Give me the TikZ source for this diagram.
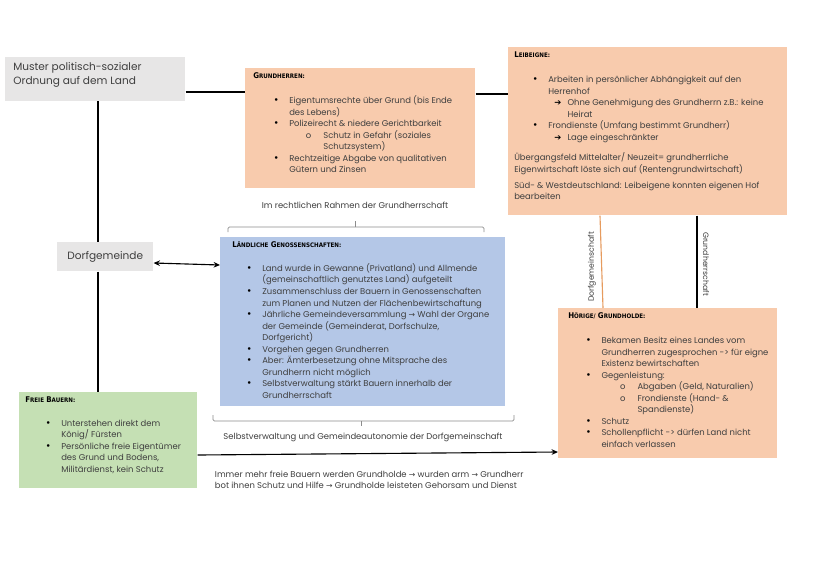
\documentclass[tikz,border=0pt]{standalone}
\usepackage{fontspec}
\setmainfont{Poppins}
\newfontfamily\titlefont{DejaVu Sans Condensed Bold}
\newfontfamily\symfont{DejaVu Sans}
\usepackage{enumitem}
\usepackage{tikz}
\usetikzlibrary{positioning,arrows.meta,calc}

\definecolor{hellorange}{HTML}{F8CBAD}
\definecolor{hellblau}{HTML}{B4C7E7}
\definecolor{hellgruen}{HTML}{C5E0B4}
\definecolor{hellgrau}{HTML}{E7E6E6}
\definecolor{linieorange}{HTML}{E69B5E}
\definecolor{klammergrau}{HTML}{8C8C8C}
\definecolor{schrift}{HTML}{3F3F3F}

\newcommand{\bodyfont}{\fontsize{6}{8.2}\selectfont}
\newcommand{\kopf}[2]{{\titlefont\color{black}\fontsize{5.6}{7}\selectfont #1\fontsize{4.4}{7}\selectfont #2}}
\newcommand{\pfeil}{{\symfont\fontsize{5.5}{7}\selectfont →}}
\newcommand{\dickpfeil}{{\symfont\color{black}\fontsize{6}{7}\selectfont ➔}}
\newcommand{\punkt}{{\color{black}\fontsize{7.5}{7}\selectfont\textbullet}}
\newcommand{\inhalt}[3]{\begin{minipage}[t][#2][t]{#1}\raggedright #3\end{minipage}}
\setlist[itemize]{nosep, label=\punkt, leftmargin=0.9cm, labelsep=0.27cm}
\setlist[itemize,2]{label=o, leftmargin=0.85cm, labelsep=0.3cm}

\begin{document}
\begin{tikzpicture}[
    x=0.025cm, y=-0.025cm,
    kasten/.style={anchor=north west, inner xsep=0.2cm, inner ysep=0.12cm, text=schrift, font=\bodyfont},
    grau/.style={kasten, fill=hellgrau, font=\fontsize{7.5}{10.5}\selectfont},
    orange/.style={kasten, fill=hellorange},
    blau/.style={kasten, fill=hellblau},
    gruen/.style={kasten, fill=hellgruen},
    linie/.style={draw=black, line width=0.8pt},
    arr/.style={-{Stealth[length=1.6mm, width=1.4mm]}, line width=0.8pt},
    doppel/.style={{Stealth[length=1.6mm, width=1.4mm]}-{Stealth[length=1.6mm, width=1.4mm]}, line width=0.8pt},
    klammer/.style={draw=klammergrau, line width=0.5pt, rounded corners=1pt},
    notiz/.style={font=\bodyfont, text=schrift, align=left},
    seite/.style={font=\fontsize{5.5}{7}\selectfont, text=schrift},
]

\fill[white] (0,0) rectangle (828,586);
\useasboundingbox (0,0) rectangle (828,586);

% Row 1: Ueberschrift, Grundherren, Leibeigne
\node[grau] (muster) at (5,57) {\inhalt{4.1cm}{0.85cm}{Muster politisch-sozialer\\Ordnung auf dem Land}};

\node[orange] (grundherren) at (245,68) {\inhalt{5.35cm}{2.76cm}{%
\kopf{G}{RUNDHERREN:}\par\vspace{0.33cm}
\begin{itemize}[leftmargin=0.9cm]
\item Eigentumsrechte über Grund (bis Ende\\des Lebens)
\item Polizeirecht \& niedere Gerichtbarkeit
  \begin{itemize}
  \item Schutz in Gefahr (soziales\\Schutzsystem)
  \end{itemize}
\item Rechtzeitige Abgabe von qualitativen\\Gütern und Zinsen
\end{itemize}}};

\node[orange, inner xsep=0.15cm] (leibeigne) at (508,47) {\inhalt{6.675cm}{3.96cm}{%
\kopf{L}{EIBEIGNE:}\par\vspace{0.33cm}
\begin{itemize}[leftmargin=0.85cm]
\item Arbeiten in persönlicher Abhängigkeit auf den\\Herrenhof
  \begin{itemize}[label=\dickpfeil, leftmargin=0.48cm, labelsep=0.15cm]
  \item Ohne Genehmigung des Grundherrn z.B.: keine\\Heirat
  \end{itemize}
\item Frondienste (Umfang bestimmt Grundherr)
  \begin{itemize}[label=\dickpfeil, leftmargin=0.48cm, labelsep=0.15cm]
  \item Lage eingeschränkter
  \end{itemize}
\end{itemize}\par\vspace{0.22cm}
Übergangsfeld Mittelalter/ Neuzeit= grundherrliche\\Eigenwirtschaft löste sich auf (Rentengrundwirtschaft)\par\vspace{0.12cm}
Süd- \& Westdeutschland: Leibeigene konnten eigenen Hof\\bearbeiten}};

% Row 2: Dorfgemeinde und Genossenschaften
\node[grau, inner sep=0pt, minimum width=2.4cm, minimum height=0.725cm] (dorf) at (57,242) {Dorfgemeinde};

\node[blau, inner xsep=0.3cm] (genossen) at (220,237) {\inhalt{6.525cm}{3.985cm}{%
\kopf{L}{ÄNDLICHE} \kopf{G}{ENOSSENSCHAFTEN:}\par\vspace{0.3cm}
\begin{itemize}[leftmargin=0.75cm]
\item Land wurde in Gewanne (Privatland) und Allmende\\(gemeinschaftlich genutztes Land) aufgeteilt
\item Zusammenschluss der Bauern in Genossenschaften\\zum Planen und Nutzen der Flächenbewirtschaftung
\item Jährliche Gemeindeversammlung \pfeil{} Wahl der Organe\\der Gemeinde (Gemeinderat, Dorfschulze,\\Dorfgericht)
\item Vorgehen gegen Grundherren
\item Aber: Ämterbesetzung ohne Mitsprache des\\Grundherrn nicht möglich
\item Selbstverwaltung stärkt Bauern innerhalb der\\Grundherrschaft
\end{itemize}}};

% Row 3: Hoerige und Freie Bauern
\node[orange, inner xsep=0.25cm] (hoerige) at (558,308) {\inhalt{4.975cm}{3.51cm}{%
\kopf{H}{ÖRIGE/} \kopf{G}{RUNDHOLDE:}\par\vspace{0.33cm}
\begin{itemize}[leftmargin=0.83cm]
\item Bekamen Besitz eines Landes vom\\\mbox{Grundherren zugesprochen -> für eigne}\\Existenz bewirtschaften
\item Gegenleistung:
  \begin{itemize}[leftmargin=0.9cm]
  \item Abgaben (Geld, Naturalien)
  \item Frondienste (Hand- \&\\Spandienste)
  \end{itemize}
\item Schutz
\item Schollenpflicht -> dürfen Land nicht\\einfach verlassen
\end{itemize}}};

\node[gruen, inner xsep=0.15cm] (freie) at (19,392) {\inhalt{4.15cm}{2.16cm}{%
\kopf{F}{REIE} \kopf{B}{AUERN:}\par\vspace{0.3cm}
\begin{itemize}[leftmargin=0.9cm]
\item Unterstehen direkt dem\\König/ Fürsten
\item Persönliche freie Eigentümer\\des Grund und Bodens,\\Militärdienst, kein Schutz
\end{itemize}}};

% Verbindungen
\draw[linie] (muster.east |- 0,92) -- (grundherren.west |- 0,92);
\draw[linie] (grundherren.east |- 0,94) -- (leibeigne.west |- 0,94);
\draw[linie] (98,0 |- muster.south) -- (98,0 |- dorf.north);
\draw[linie] (98,0 |- dorf.south) -- (98,0 |- freie.north);
\draw[doppel] (dorf.east |- 0,263) -- (genossen.west |- 0,265);

% Leibeigne zu Hoerige
\draw[linie, draw=linieorange] (600,0 |- leibeigne.south) -- (603,0 |- hoerige.north);
\draw[linie] (697,0 |- leibeigne.south) -- (697,0 |- hoerige.north);
\node[seite, rotate=90] (ldorf) at (592,267) {Dorfgemeinschaft};
\node[seite, rotate=-90] (lherr) at (706,264) {Grundherrschaft};

% Freie Bauern werden Grundholde
\draw[arr] (freie.east |- 0,455) -- (hoerige.west |- 0,452);
\node[notiz, anchor=north west] (folge) at (210,466) {Immer mehr freie Bauern werden Grundholde \pfeil{} wurden arm \pfeil{} Grundherr\\bot ihnen Schutz und Hilfe \pfeil{} Grundholde leisteten Gehorsam und Dienst};

% Klammern um Genossenschaften
\draw[klammer] (228,232) -- (228,227) -- (484,227) -- (484,232);
\draw[klammer] (355,227) -- (355,221);
\node[notiz] (rahmen) at (355,205) {Im rechtlichen Rahmen der Grundherrschaft};
\draw[klammer] (213,415) -- (213,421) -- (514,421) -- (514,415);
\draw[klammer] (361,421) -- (361,426);
\node[notiz] (autonomie) at (363,437) {Selbstverwaltung und Gemeindeautonomie der Dorfgemeinschaft};

\end{tikzpicture}
\end{document}
